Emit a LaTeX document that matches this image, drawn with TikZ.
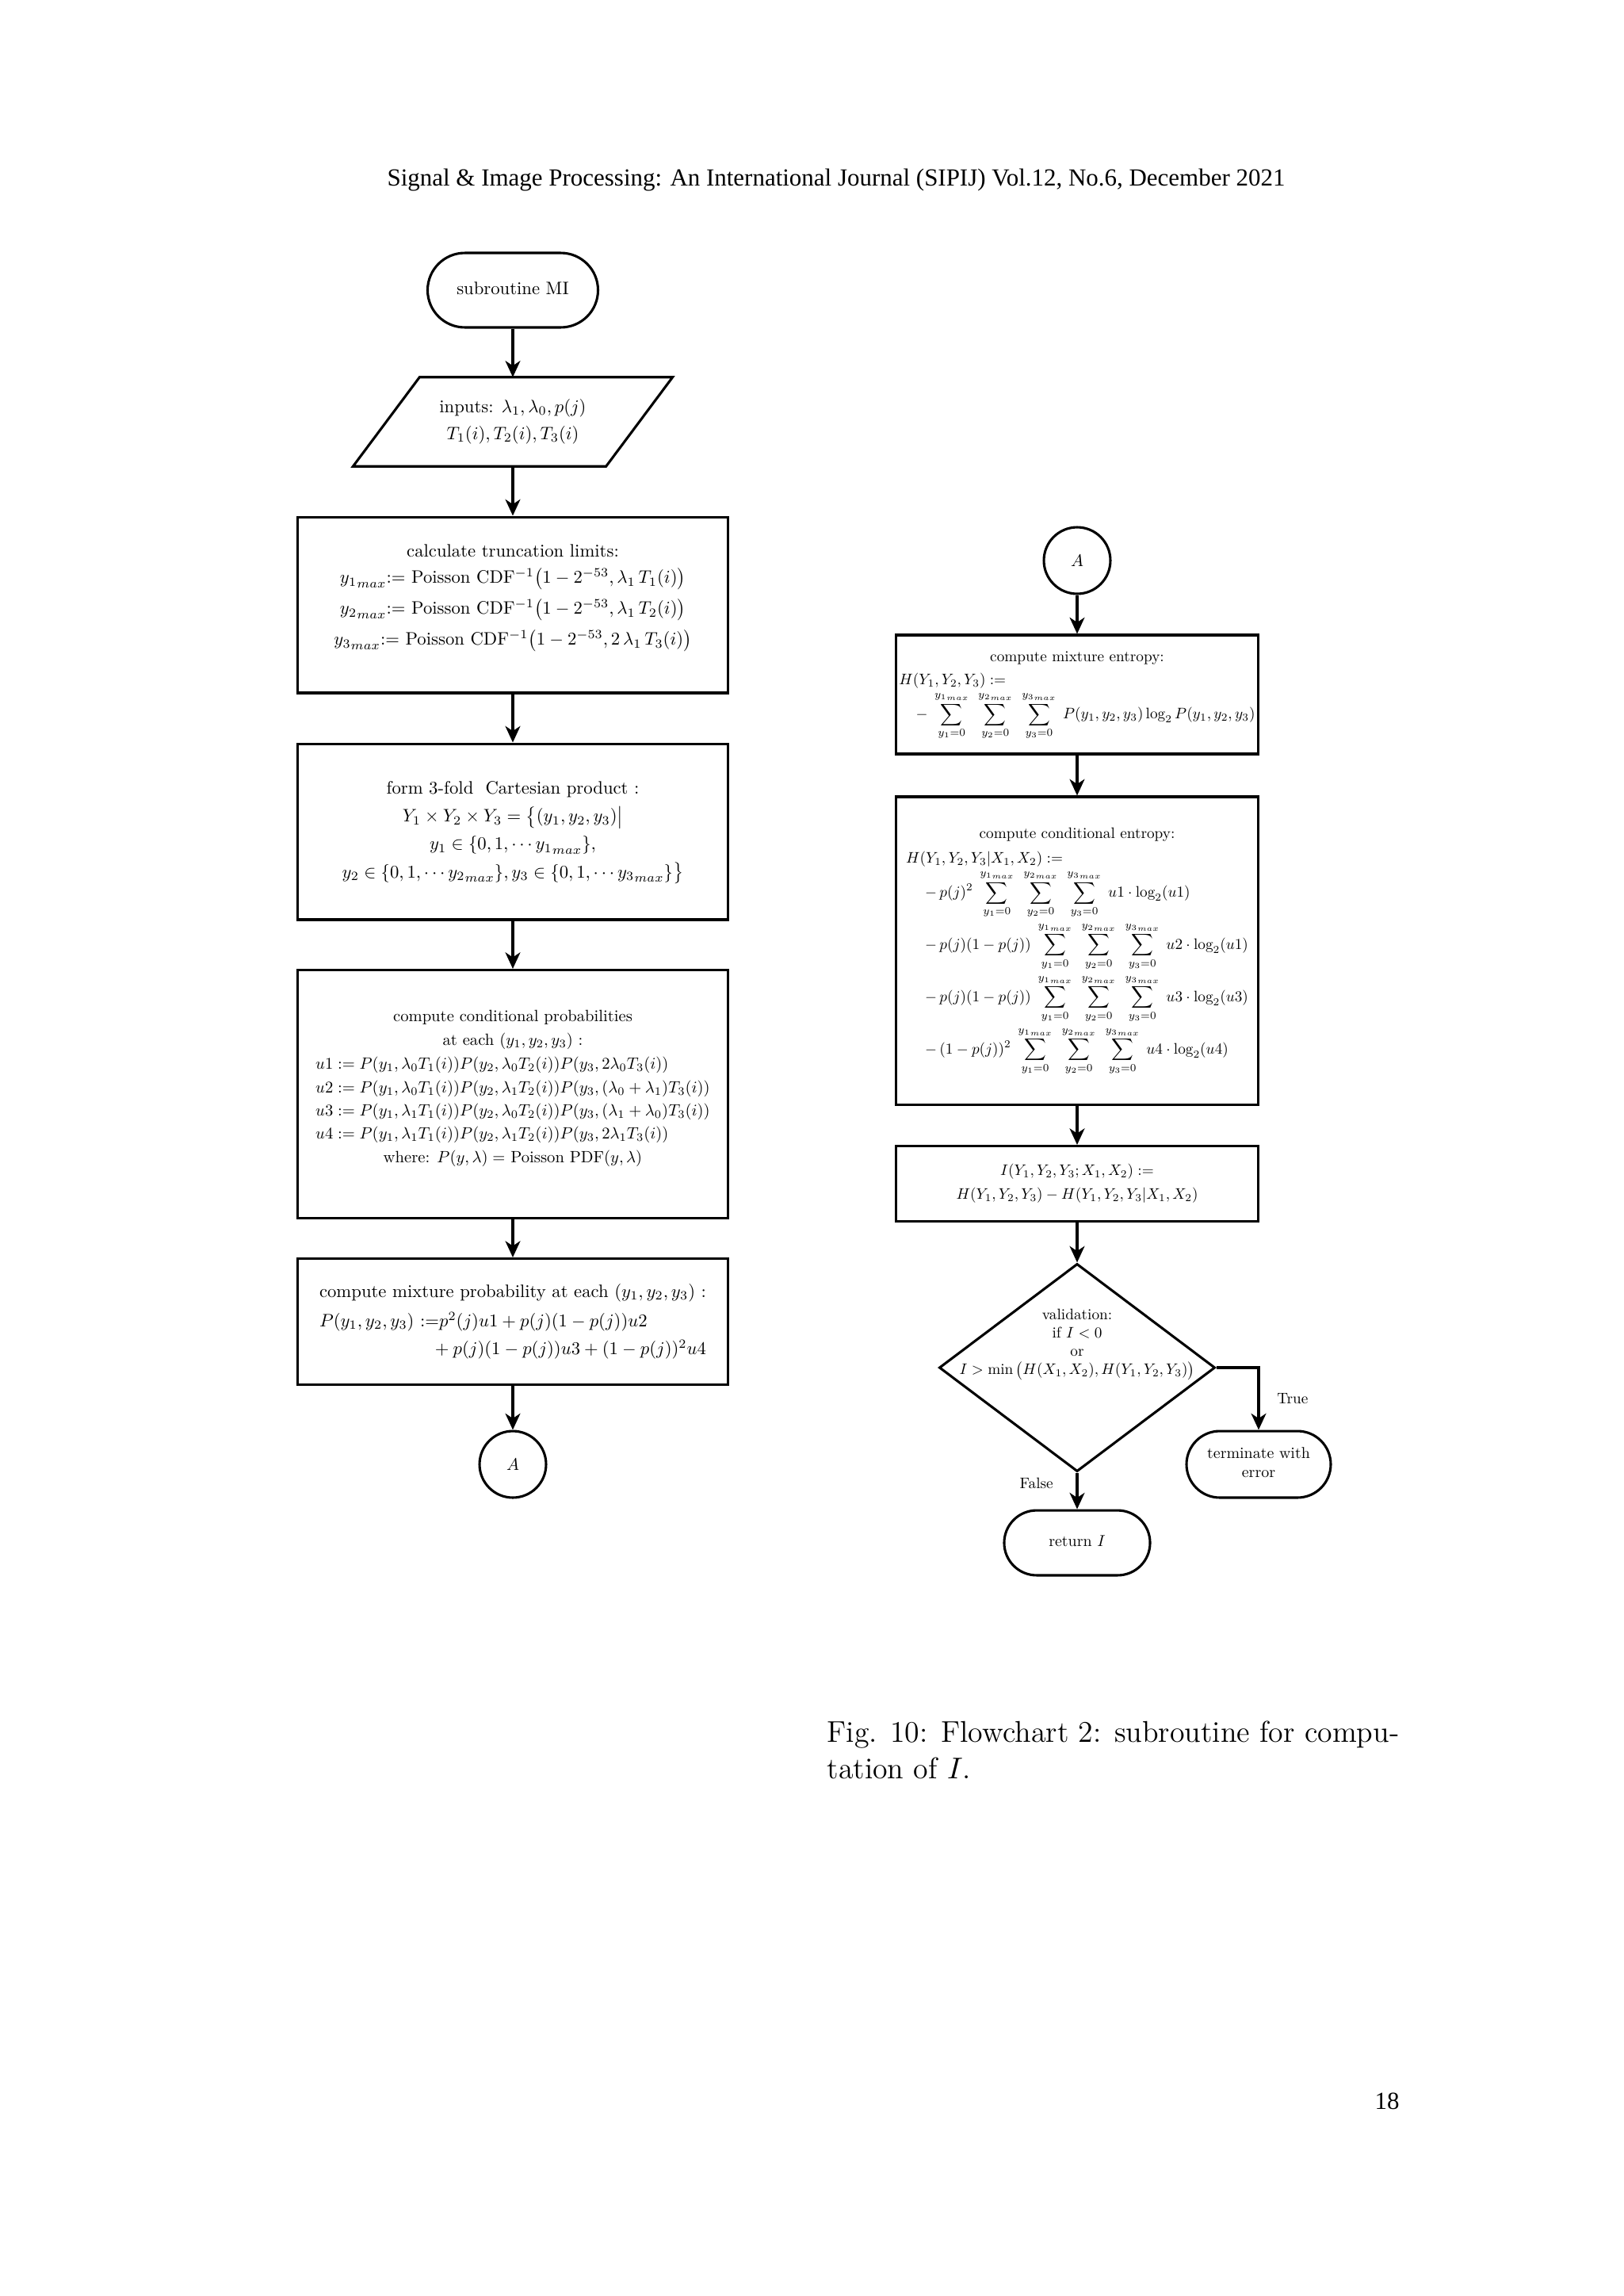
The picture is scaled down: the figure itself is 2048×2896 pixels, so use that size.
\RequirePackage{fix-cm}
\documentclass[tikz,border=0pt]{standalone}
\usepackage{amsmath}
\usepackage{graphicx}
\usepackage{fontspec}
\newfontfamily\timesfont{Liberation Serif}
\usetikzlibrary{shapes.misc,shapes.geometric,arrows.meta}
\newcommand\LT[1]{\scalebox{0.66}{\begin{tabular}{@{}c@{}}#1\end{tabular}}}
\newcommand\MT[1]{\scalebox{0.60}{\begin{tabular}{@{}c@{}}#1\end{tabular}}}
\newcommand\RT[1]{\scalebox{0.56}{\begin{tabular}{@{}c@{}}#1\end{tabular}}}
\newcommand\TT[1]{\scalebox{0.58}{\begin{tabular}{@{}c@{}}#1\end{tabular}}}
\newcommand\lline[1]{\multicolumn{1}{@{}l@{}}{#1}}
\newcommand\rline[1]{\multicolumn{1}{@{}r@{}}{#1}}
\newcommand\mymax[1]{{y_{#1}}_{max}}
\newcommand\mysums{\sum_{y_1=0}^{\mymax1}\hspace{0.45em}\sum_{y_2=0}^{\mymax2}\hspace{0.45em}\sum_{y_3=0}^{\mymax3}}
\tikzset{
  procbox/.style={draw, line width=0.9pt, rectangle, align=center, inner sep=1pt},
  termbox/.style={draw, line width=0.9pt, rounded rectangle, align=center, inner sep=1pt},
  connbox/.style={draw, line width=0.9pt, circle, inner sep=0pt, minimum size=24.4pt},
  arr/.style={line width=0.9pt, -{Stealth[length=6pt,width=5.5pt,inset=1.8pt]}},
}
\begin{document}
\begin{tikzpicture}[x=0.29066pt,y=-0.29066pt]
\fill[white] (0,0) rectangle (2048,2896);
\useasboundingbox (0,0) rectangle (2048,2896);

% header and page number
\node[font=\timesfont\fontsize{9}{11}\selectfont, anchor=base, inner sep=0pt] (hdr) at (1055,234)
  {Signal \& Image Processing: An International Journal (SIPIJ) Vol.12, No.6, December 2021};
\node[font=\timesfont\fontsize{9}{11}\selectfont, anchor=base, inner sep=0pt] (pnum) at (1750,2660) {18};

% ---------- left column ----------
\node[termbox, minimum width=64.5pt, minimum height=27.3pt] (t1) at (647,366) {\LT{subroutine MI}};

\node[align=center, minimum width=92.4pt, minimum height=32.3pt, inner sep=0pt] (inp) at (647,532)
  {\LT{inputs: $\lambda_1,\lambda_0,p(j)$\\[3pt] $T_1(i),T_2(i),T_3(i)$}};
\draw[line width=0.9pt, line join=miter]
  ([xshift=12.2pt]inp.north west) -- ([xshift=12.2pt]inp.north east) --
  ([xshift=-12.2pt]inp.south east) -- ([xshift=-12.2pt]inp.south west) -- cycle;

\node[procbox, minimum width=157.8pt, minimum height=64.5pt] (b1) at (647,763)
  {\LT{calculate truncation limits:\\[2.5pt]
   $\mymax1$:= Poisson CDF$^{-1}\big(1-2^{-53},\lambda_1\,T_1(i)\big)$\\[5pt]
   $\mymax2$:= Poisson CDF$^{-1}\big(1-2^{-53},\lambda_1\,T_2(i)\big)$\\[5pt]
   $\mymax3$:= Poisson CDF$^{-1}\big(1-2^{-53},2\,\lambda_1\,T_3(i)\big)$\\[9pt]}};

\node[procbox, minimum width=157.8pt, minimum height=64.5pt] (b2) at (647,1049)
  {\LT{form 3-fold\ \ Cartesian product :\\[3.4pt]
   $Y_1\times Y_2\times Y_3=\big\{(y_1,y_2,y_3)\big|$\\[3.4pt]
   $y_1\in\{0,1,\cdots \mymax1\},$\\[3.4pt]
   $y_2\in\{0,1,\cdots \mymax2\},y_3\in\{0,1,\cdots \mymax3\}\big\}$}};

\node[procbox, minimum width=157.8pt, minimum height=91pt] (b3) at (647,1380)
  {\MT{compute conditional probabilities\\[2.6pt]
   at each $(y_1,y_2,y_3)$ :\\[2.6pt]
   \lline{$u1 := P(y_1,\lambda_0T_1(i))P(y_2,\lambda_0T_2(i))P(y_3,2\lambda_0T_3(i))$}\\[2.2pt]
   \lline{$u2 := P(y_1,\lambda_0T_1(i))P(y_2,\lambda_1T_2(i))P(y_3,(\lambda_0+\lambda_1)T_3(i))$}\\[2.2pt]
   \lline{$u3 := P(y_1,\lambda_1T_1(i))P(y_2,\lambda_0T_2(i))P(y_3,(\lambda_1+\lambda_0)T_3(i))$}\\[2.2pt]
   \lline{$u4 := P(y_1,\lambda_1T_1(i))P(y_2,\lambda_1T_2(i))P(y_3,2\lambda_1T_3(i))$}\\[2.6pt]
   where: $P(y,\lambda)=$ Poisson PDF$(y,\lambda)$\\[7pt]}};

\node[procbox, minimum width=157.8pt, minimum height=46.2pt] (b4) at (647,1667)
  {\LT{compute mixture probability at each $(y_1,y_2,y_3)$ :\\[4.3pt]
   \lline{$P(y_1,y_2,y_3)$ :=$p^2(j)u1+p(j)(1-p(j))u2$}\\[3.4pt]
   \rline{${}+p(j)(1-p(j))u3+(1-p(j))^2u4$}}};

\node[connbox] (cA) at (647,1847) {\scalebox{0.62}{$A$}};

% ---------- right column ----------
\node[connbox] (cB) at (1359,707) {\scalebox{0.62}{$A$}};

\node[procbox, minimum width=132.8pt, minimum height=43.6pt] (b5) at (1359,876)
  {\RT{compute mixture entropy:\\[3pt]
   \lline{$H(Y_1,Y_2,Y_3) :=$}\\[1pt]
   \lline{\hspace{1.1em}$\displaystyle -\;\mysums\;P(y_1,y_2,y_3)\log_2 P(y_1,y_2,y_3)$}}};

\node[procbox, minimum width=132.8pt, minimum height=112.8pt] (b6) at (1359,1199)
  {\RT{compute conditional entropy:\\[4pt]
   \lline{$H(Y_1,Y_2,Y_3|X_1,X_2) :=$}\\[1pt]
   \lline{\hspace{1.25em}$\displaystyle -\,p(j)^2\;\mysums\;u1\cdot\log_2(u1)$}\\ \noalign{\vskip 2.7pt}
   \lline{\hspace{1.25em}$\displaystyle -\,p(j)(1-p(j))\;\mysums\;u2\cdot\log_2(u1)$}\\ \noalign{\vskip 2.7pt}
   \lline{\hspace{1.25em}$\displaystyle -\,p(j)(1-p(j))\;\mysums\;u3\cdot\log_2(u3)$}\\ \noalign{\vskip 2.7pt}
   \lline{\hspace{1.25em}$\displaystyle -\,(1-p(j))^2\;\mysums\;u4\cdot\log_2(u4)$}}};

\node[procbox, minimum width=132.8pt, minimum height=27.6pt] (b7) at (1359,1493)
  {\RT{$I(Y_1,Y_2,Y_3;X_1,X_2) :=$\\[3.5pt]
   $H(Y_1,Y_2,Y_3)-H(Y_1,Y_2,Y_3|X_1,X_2)$}};

\node[draw, diamond, line width=0.9pt, inner sep=0pt, minimum width=101.2pt, minimum height=76.2pt] (dia) at (1359,1725) {};
\node[anchor=base, inner sep=0pt] (diatext) at ([yshift=-2.6pt]dia.center)
  {\scalebox{0.56}{\begin{tabular}[b]{@{}c@{}}validation:\\ if $I<0$\\ or\\ $I>\min\big(H(X_1,X_2),H(Y_1,Y_2,Y_3)\big)$\end{tabular}}};

\node[termbox, minimum width=54.9pt, minimum height=24.4pt] (term) at (1588,1847) {\TT{terminate with\\error}};
\node[termbox, minimum width=55.5pt, minimum height=23.8pt] (ret) at (1359,1946) {\TT{return $I$}};

% ---------- connectors ----------
\draw[arr] (t1.south) -- (inp.north);
\draw[arr] (inp.south) -- (b1.north);
\draw[arr] (b1.south) -- (b2.north);
\draw[arr] (b2.south) -- (b3.north);
\draw[arr] (b3.south) -- (b4.north);
\draw[arr] (b4.south) -- (cA.north);
\draw[arr] (cB.south) -- (b5.north);
\draw[arr] (b5.south) -- (b6.north);
\draw[arr] (b6.south) -- (b7.north);
\draw[arr] (b7.south) -- (dia.north);
\draw[arr] (dia.east) -| node[pos=0.75, right=3pt] {\scalebox{0.56}{True}} (term.north);
\draw[arr] (dia.south) -- node[pos=0.3, left=5pt] {\scalebox{0.56}{False}} (ret.north);

% ---------- caption ----------
\node[anchor=base west, align=left, inner sep=0pt, font=\fontsize{11}{13.1}\selectfont] (cap) at (1043,2243)
  {Fig. 10: Flowchart 2: subroutine for compu-\\tation of $I$.};
\end{tikzpicture}
\end{document}
